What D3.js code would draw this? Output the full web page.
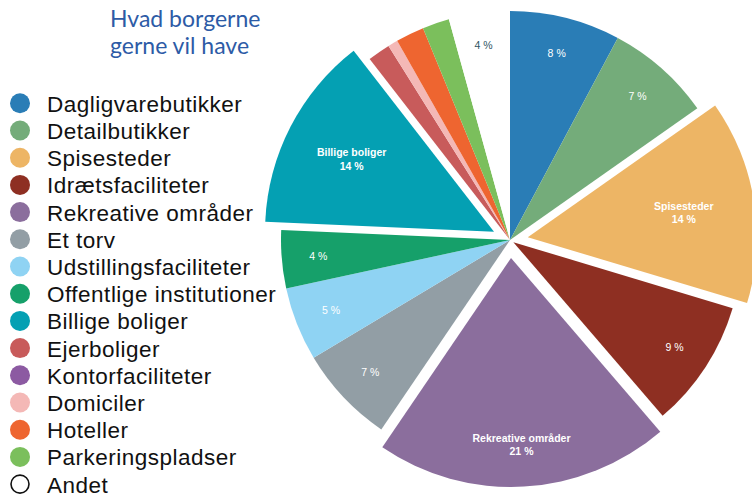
<!DOCTYPE html>
<html>
<head>
<meta charset="utf-8">
<script src="https://cdn.jsdelivr.net/npm/d3@7"></script>
<style>
  body { margin: 0; background: #fff; }
  svg { display: block; }
</style>
</head>
<body>
<div id="chart"></div>
<script>
// categories, values (share in %) and label texts
var categories = ["Dagligvarebutikker", "Detailbutikker", "Spisesteder", "Idrætsfaciliteter",
  "Rekreative områder", "Et torv", "Udstillingsfaciliteter", "Offentlige institutioner",
  "Billige boliger", "Ejerboliger", "Kontorfaciliteter", "Domiciler", "Hoteller",
  "Parkeringspladser", "Andet"];
var values = [7.8, 7.45, 14.4, 9.05, 20.8, 6.9, 5.2, 4.1, 13.8, 1.6, 0, 0.7, 2.0, 1.9, 4.3];
var pctLabels = ["8 %", "7 %", "14 %", "9 %", "21 %", "7 %", "5 %", "4 %", "14 %", "", "", "", "", "", "4 %"];
var titleLines = ["Hvad borgerne", "gerne vil have"];

var colors = ["#2a7db6", "#74ac7a", "#edb565", "#8e2f22", "#8b6e9d", "#929ea5", "#8fd3f3",
  "#16a06a", "#04a0b3", "#c85b5b", "#8c5aa2", "#f4b8b6", "#ee6530", "#7bbf5c", "#ffffff"];
// slices pulled out of the pie and slices that show their name
var explode = {"Spisesteder": 18, "Idrætsfaciliteter": 4, "Rekreative områder": 18, "Billige boliger": 18};
var named = ["Spisesteder", "Rekreative områder", "Billige boliger"];
var labelPos = {"Spisesteder": 0.69, "Rekreative områder": 0.81, "Billige boliger": 0.7};

var width = 752, height = 496;
var cx = 510, cy = 240, radius = 229;

var svg = d3.select("#chart")
  .append("svg")
  .attr("width", width)
  .attr("height", height);

// title
svg.append("text")
  .attr("x", 110)
  .attr("y", 27)
  .attr("fill", "#2d5ba6")
  .style("font-family", "Lato, 'Open Sans', sans-serif")
  .style("font-size", "23px")
  .selectAll("tspan")
  .data(titleLines)
  .enter()
  .append("tspan")
  .attr("x", 110)
  .attr("dy", function(d, i) { return i ? 27 : 0; })
  .text(function(d) { return d; });

// legend
var legend = svg.append("g")
  .selectAll("g")
  .data(categories)
  .enter()
  .append("g")
  .attr("transform", function(d, i) {
    return "translate(0," + (103.3 + i * 27.2) + ")";
  });

legend.append("circle")
  .attr("cx", 20)
  .attr("cy", 0)
  .attr("r", function(d, i) { return i == categories.length - 1 ? 9 : 10; })
  .attr("fill", function(d, i) { return colors[i]; })
  .attr("stroke", function(d, i) { return i == categories.length - 1 ? "#111" : "none"; })
  .attr("stroke-width", 1.6);

legend.append("text")
  .attr("x", 47)
  .attr("y", 8.4)
  .attr("fill", "#111")
  .style("font-family", "'Liberation Sans', Arial, sans-serif")
  .style("font-size", "22.5px")
  .style("letter-spacing", "0.5px")
  .text(function(d) { return d; });

// pie
var pie = d3.pie()
  .sort(null)
  .value(function(d) { return d; });

var arcs = pie(values);

var arc = d3.arc()
  .innerRadius(0)
  .outerRadius(radius);

var slices = svg.append("g")
  .attr("transform", "translate(" + cx + "," + cy + ")")
  .selectAll("g")
  .data(arcs)
  .enter()
  .append("g")
  .attr("transform", function(d, i) {
    var off = explode[categories[i]] || 0;
    var a = (d.startAngle + d.endAngle) / 2;
    return "translate(" + (Math.sin(a) * off) + "," + (-Math.cos(a) * off) + ")";
  });

slices.append("path")
  .attr("d", arc)
  .attr("fill", function(d, i) { return colors[i]; });

var labels = slices.filter(function(d, i) { return pctLabels[i] != ""; })
  .append("text")
  .attr("transform", function(d) {
    var i = d.index;
    var k = labelPos[categories[i]] || (i == categories.length - 1 ? 0.86 : 0.84);
    var a = (d.startAngle + d.endAngle) / 2;
    return "translate(" + (Math.sin(a) * radius * k) + "," + (-Math.cos(a) * radius * k) + ")";
  })
  .attr("text-anchor", "middle")
  .attr("fill", function(d) { return d.index == categories.length - 1 ? "#2f5563" : "#fff"; })
  .style("font-family", "'Liberation Sans', Arial, sans-serif")
  .style("font-size", "10.5px")
  .style("font-weight", function(d) { return named.indexOf(categories[d.index]) > -1 ? "bold" : "normal"; });

labels.each(function(d) {
  var t = d3.select(this);
  var i = d.index;
  if (named.indexOf(categories[i]) > -1) {
    t.append("tspan").attr("x", 0).attr("dy", "-0.15em").text(categories[i]);
    t.append("tspan").attr("x", 0).attr("dy", "1.25em").text(pctLabels[i]);
  } else {
    t.append("tspan").attr("x", 0).attr("dy", "0.35em").text(pctLabels[i]);
  }
});
</script>
</body>
</html>
